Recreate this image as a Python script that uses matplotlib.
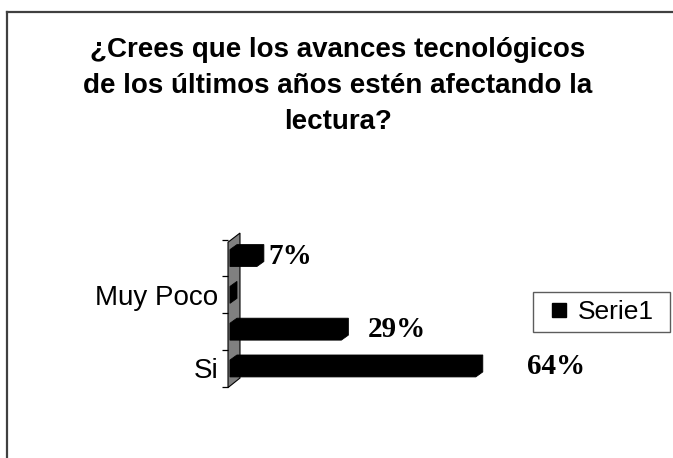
import matplotlib
matplotlib.use("Agg")
import matplotlib.pyplot as plt
from matplotlib.patches import Polygon
from matplotlib.lines import Line2D

# ---- data ----
tick_labels = ["Si", "", "Muy Poco", ""]
values = [64, 29, 0, 7]
value_labels = ["64%", "29%", "", "7%"]
series_name = "Serie1"
title = "¿Crees que los avances tecnológicos\nde los últimos años estén afectando la\nlectura?"

W, H = 673, 458
fig = plt.figure(figsize=(W / 100, H / 100), dpi=100)
fig.patch.set_facecolor("white")

def fx(px):
    return px / W

def fy(py):
    return 1 - py / H

# axes placement (pixels)
ax_left, ax_right = 228, 500
ax_top, ax_bottom = 232.3, 388.7
ax = fig.add_axes([fx(ax_left), fy(ax_bottom), (ax_right - ax_left) / W, (ax_bottom - ax_top) / H])
ax.set_xlim(-0.52, 70.3)
ax.set_ylim(-0.55, 3.7)
ax.patch.set_alpha(0)
for s in ax.spines.values():
    s.set_visible(False)

# wall (side wall of the 3D chart)
wall = Polygon([(-0.52, -0.52), (-0.52, 3.43), (2.6, 3.68), (2.6, -0.26)],
               closed=True, facecolor="#808080", edgecolor="black", lw=0.8, clip_on=False, zorder=1)
ax.add_patch(wall)

# 3D bars
h = 0.46
dx = 1.82
dy = 0.136
for i, v in enumerate(values):
    b, t = i - h / 2, i + h / 2
    pts = [(0, b), (v, b), (v + dx, b + dy), (v + dx, t + dy), (dx, t + dy), (0, t)]
    ax.add_patch(Polygon(pts, closed=True, facecolor="black", edgecolor="black",
                         lw=0.6, clip_on=False, zorder=3))
    if value_labels[i]:
        ax.text(1.182 * v + 1.63, i + 0.05, value_labels[i], ha="left", va="center",
                fontsize=21, fontweight="bold", family="Liberation Serif", zorder=4)

# ticks
ax.set_yticks(range(len(tick_labels)))
ax.set_yticklabels(tick_labels, fontsize=20, family="Liberation Sans")
ax.set_yticks([i - 0.5 for i in range(len(tick_labels) + 1)], minor=True)
ax.tick_params(axis="y", which="major", length=0, pad=7)
ax.tick_params(axis="y", which="minor", length=4.3, width=0.9, direction="out", color="black")
ax.set_xticks([])

# legend
handle = Line2D([], [], marker="s", color="black", markersize=10.5, linestyle="none")
leg = fig.legend([handle], [series_name], loc="center", mode="expand",
                 bbox_to_anchor=(fx(533), fy(332), (670 - 533) / W, 40 / H),
                 frameon=True, fancybox=False,
                 prop={"family": "Liberation Sans", "size": 19},
                 borderpad=0.31, handlelength=1.35, handletextpad=0.05, borderaxespad=0)
leg.get_frame().set_edgecolor("#333333")
leg.get_frame().set_linewidth(1.0)

# title
fig.text(fx(338), fy(86), title, ha="center", va="center", fontsize=20,
         fontweight="bold", family="Liberation Sans", linespacing=1.5)

# outer frame (left and top edges visible)
fig.add_artist(Line2D([fx(7), fx(7)], [fy(12), 0], color="#404040", lw=1.6))
fig.add_artist(Line2D([fx(7), 1], [fy(12), fy(12)], color="#404040", lw=1.6))

fig.savefig("out.png", dpi=100, facecolor="white")
